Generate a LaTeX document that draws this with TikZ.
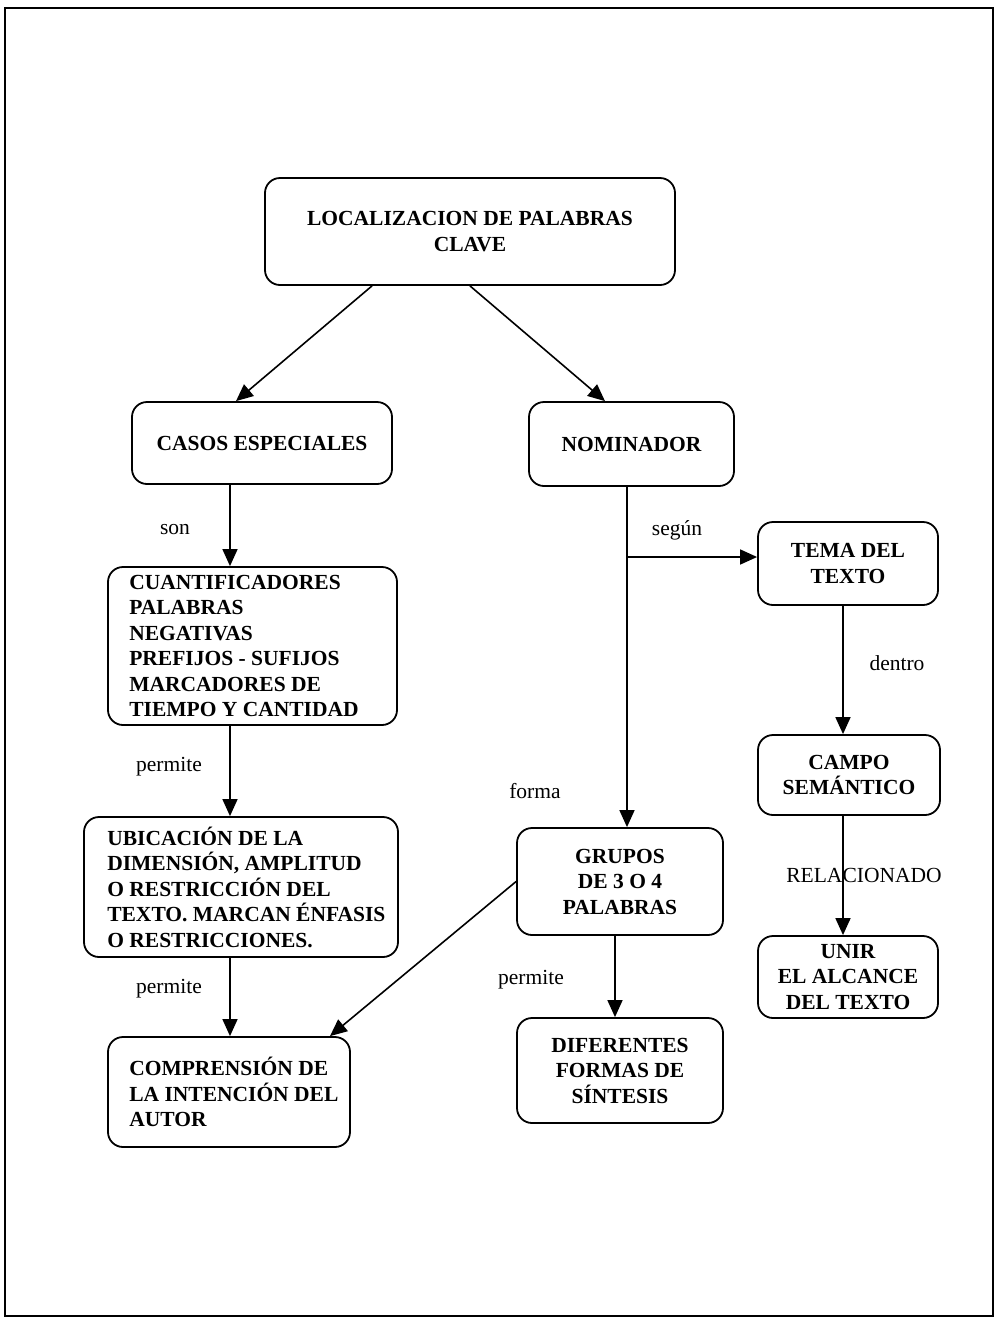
\documentclass[tikz,border=0pt]{standalone}
\usepackage{fontspec}
\setmainfont{Liberation Serif}
\usetikzlibrary{arrows.meta}
\begin{document}
\begin{tikzpicture}[x=1pt,y=-1pt,
  boxfont/.style={font=\fontsize{21.5}{25.5}\selectfont\bfseries},
  box/.style={draw,line width=1.8pt,rounded corners=15pt,inner sep=0pt,boxfont},
  boxtext/.style={boxfont,align=left,inner sep=0pt,anchor=west},
  lbl/.style={font=\fontsize{21.5}{25.5}\selectfont,inner sep=0pt},
  arr/.style={line width=1.6pt,-{Triangle[length=17pt,width=15pt]}}]
\useasboundingbox (0,0) rectangle (997,1318);
% page frame
\draw[line width=1.8pt] (5,8) rectangle (993,1316);

% concept boxes
\node[box,minimum width=410pt,minimum height=107pt,align=center] (top) at (470,231.5)
  {LOCALIZACION DE PALABRAS\\CLAVE};
\node[box,minimum width=260pt,minimum height=82pt] (casos) at (262,443) {CASOS ESPECIALES};
\node[box,minimum width=205pt,minimum height=84pt] (nom) at (631.5,444) {NOMINADOR};
\node[box,minimum width=180pt,minimum height=83pt,align=center] (tema) at (848,563.5)
  {TEMA DEL\\TEXTO};
\node[box,minimum width=182pt,minimum height=80pt,align=center] (campo) at (849,775)
  {CAMPO\\SEMÁNTICO};
\node[box,minimum width=206pt,minimum height=107pt,align=center] (grupos) at (620,881.5)
  {GRUPOS\\DE 3 O 4\\PALABRAS};
\node[box,minimum width=206pt,minimum height=105pt,align=center] (dif) at (620,1070.5)
  {DIFERENTES\\FORMAS DE\\SÍNTESIS};
\node[box,minimum width=180pt,minimum height=82pt,align=center] (unir) at (848,977)
  {UNIR\\EL ALCANCE\\DEL TEXTO};

% boxes whose lines are set flush left
\node[box,minimum width=289pt,minimum height=158pt] (cuant) at (252.5,646) {};
\node[boxtext] (cuantT) at ([xshift=22pt]cuant.west)
  {CUANTIFICADORES\\PALABRAS\\NEGATIVAS\\PREFIJOS - SUFIJOS\\MARCADORES DE\\TIEMPO Y CANTIDAD};
\node[box,minimum width=314pt,minimum height=140pt] (ubic) at (241,887) {};
\node[boxtext] (ubicT) at ([xshift=24pt]ubic.west)
  {UBICACIÓN DE LA\\DIMENSIÓN, AMPLITUD\\O RESTRICCIÓN DEL\\TEXTO. MARCAN ÉNFASIS\\O RESTRICCIONES.};
\node[box,minimum width=242pt,minimum height=110pt] (comp) at (229,1092) {};
\node[boxtext] (compT) at ([xshift=22pt]comp.west)
  {COMPRENSIÓN DE\\LA INTENCIÓN DEL\\AUTOR};

% guide coordinates for the connector columns
\coordinate (ta) at (372,0);
\coordinate (tb) at (470,0);
\coordinate (ca) at (236,0);
\coordinate (na) at (605,0);
\coordinate (lx) at (230,0);
\coordinate (nx) at (627,0);
\coordinate (gx) at (615,0);
\coordinate (rx) at (843,0);
\coordinate (cx) at (330,0);
\coordinate (branch) at (627,557);

% connectors
\draw[arr] (top.south -| ta) -- (casos.north -| ca);
\draw[arr] (top.south -| tb) -- (nom.north -| na);
\draw[arr] (casos.south -| lx) -- (cuant.north -| lx);
\draw[arr] (cuant.south -| lx) -- (ubic.north -| lx);
\draw[arr] (ubic.south -| lx) -- (comp.north -| lx);
\draw[arr] (nom.south -| nx) -- (grupos.north -| nx);
\draw[arr] (branch) -- (branch -| tema.west);
\draw[arr] (grupos.south -| gx) -- (dif.north -| gx);
\draw[arr] (grupos.west) -- (comp.north -| cx);
\draw[arr] (tema.south -| rx) -- (campo.north -| rx);
\draw[arr] (campo.south -| rx) -- (unir.north -| rx);

% link labels
\node[lbl] (l1) at (175,530) {son};
\node[lbl] (l2) at (169,767) {permite};
\node[lbl] (l3) at (169,989) {permite};
\node[lbl] (l4) at (677,530) {según};
\node[lbl] (l5) at (535,791) {forma};
\node[lbl] (l6) at (531,980) {permite};
\node[lbl] (l7) at (897,663) {dentro};
\node[lbl] (l8) at (864,875) {RELACIONADO};
\end{tikzpicture}
\end{document}
